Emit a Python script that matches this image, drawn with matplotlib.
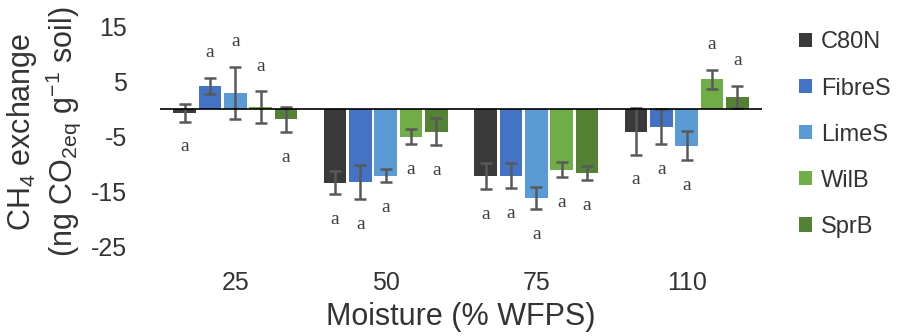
import matplotlib
matplotlib.use("Agg")
import matplotlib.pyplot as plt
import numpy as np

plt.rcParams["font.family"] = ["Liberation Sans", "DejaVu Sans"]
plt.rcParams["mathtext.fontset"] = "custom"
plt.rcParams["mathtext.rm"] = "Liberation Sans"
plt.rcParams["mathtext.it"] = "Liberation Sans"
plt.rcParams["axes.unicode_minus"] = False

# Moisture levels (% WFPS) and treatments
moisture = ["25", "50", "75", "110"]
treatments = ["C80N", "FibreS", "LimeS", "WilB", "SprB"]
colors = ["#3a3a3a", "#4472c4", "#5b9bd5", "#70ad47", "#548235"]

# Mean CH4 exchange per treatment across moisture levels
c80n = [-0.7, -13.4, -12.2, -4.1]
fibres = [4.2, -13.3, -12.1, -3.2]
limes = [2.9, -12.1, -16.2, -6.7]
wilb = [0.3, -5.0, -11.0, 5.4]
sprb = [-1.9, -4.1, -11.7, 2.2]

# Standard errors
c80n_err = [1.6, 2.1, 2.4, 4.2]
fibres_err = [1.45, 3.15, 2.3, 3.25]
limes_err = [4.7, 1.15, 2.0, 2.65]
wilb_err = [2.9, 1.35, 1.45, 1.7]
sprb_err = [2.3, 2.5, 1.25, 1.95]

# Significance letters
letters = [["a"] * 4 for _ in treatments]

means = [c80n, fibres, limes, wilb, sprb]
errors = [c80n_err, fibres_err, limes_err, wilb_err, sprb_err]

fig = plt.figure(figsize=(8.98, 3.36), dpi=100)
ax = fig.add_axes([160 / 898, 1 - 246.5 / 336, 602 / 898, 220 / 336])

x = np.arange(len(moisture))
pitch = 0.168
width = 0.150
for i, (name, vals, errs, col) in enumerate(zip(treatments, means, errors, colors)):
    pos = x + (i - 2) * pitch
    ax.bar(pos, vals, width=width, color=col, label=name, zorder=2)
    ax.errorbar(pos, vals, yerr=errs, fmt="none", ecolor="#595959",
                elinewidth=1.8, capsize=4, capthick=1.8, zorder=3)
    for p, v, e, lt in zip(pos, vals, errs, letters[i]):
        off = e + 4.6
        y = v + off if v >= 0 else v - off
        ax.text(p, y, lt, ha="center", va="center", fontsize=14,
                family="Liberation Serif", color="#404040")

ax.axhline(0, color="black", lw=1.2, zorder=4)

ax.set_xlim(-0.5, len(moisture) - 0.5)
ax.set_ylim(-25, 15)
ax.set_yticks([-25, -15, -5, 5, 15])
ax.set_xticks(x)
ax.set_xticklabels(moisture)
ax.tick_params(axis="both", length=0, labelsize=18, colors="#333333")
ax.tick_params(axis="y", pad=24)
ax.tick_params(axis="x", pad=18)
for s in ax.spines.values():
    s.set_visible(False)

ax.set_xlabel("Moisture (% WFPS)", fontsize=22, color="#333333", labelpad=5)
fig.text(44 / 898, 1 - 132 / 336,
         "CH$_4$ exchange\n(ng CO$_{2eq}$ g$^{-1}$ soil)",
         rotation=90, ha="center", va="center", fontsize=22,
         color="#333333", linespacing=1.15, multialignment="center")

leg = fig.legend(loc="upper left", bbox_to_anchor=(790 / 898, 1 - 22 / 336),
                 frameon=False, fontsize=17, handlelength=0.55, handleheight=0.55,
                 handletextpad=0.35, labelspacing=1.02, borderaxespad=0)
for t in leg.get_texts():
    t.set_color("#333333")

fig.savefig("out.png", dpi=100)
